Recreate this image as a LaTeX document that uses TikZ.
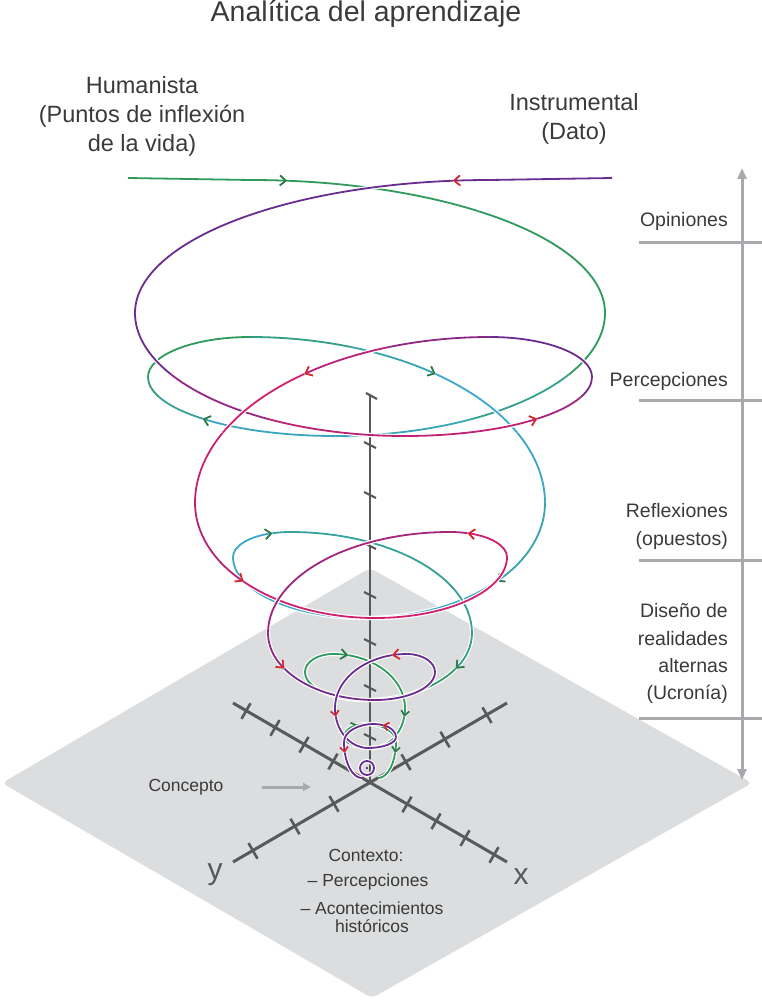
\documentclass[tikz,border=0pt]{standalone}
\usepackage{fontspec}
\setmainfont{Liberation Sans}
\usetikzlibrary{arrows.meta}
\definecolor{G}{HTML}{2E9A5E}
\definecolor{C}{HTML}{3DA9D6}
\definecolor{P}{HTML}{6A2C8F}
\definecolor{M}{HTML}{D81F6E}
\definecolor{GA}{HTML}{2B7A47}
\definecolor{PA}{HTML}{D9262C}
\definecolor{planec}{HTML}{DCDDDE}
\definecolor{axisc}{HTML}{58595B}
\definecolor{scalec}{HTML}{A7A9AC}
\definecolor{txt}{HTML}{3A3A3A}
\newcommand\fsz[1]{\fontsize{#1}{#1}\selectfont}
\newcommand\spiral[3]{%
  \colorlet{arcol}{#3}%
  \draw[seg, draw=#1] (128,178) -- (250,180);
  \foreach \qx/\qy/\qa/\qb/\qs/\qe/\qp/\qt in {
    250/313/355/133/270/276/100/1, 250/313/355/133/276/310/100/0, 250/313/355/133/310/360/100/0,
    335/313/270/123/0/30/100/0, 335/313/270/123/30/60/60/0, 335/313/270/123/60/90/25/0,
    335/377/187/59/90/135/20/1, 335/377/187/59/135/160/50/0, 335/377/187/59/160/180/85/0,
    250/377/102/40/180/270/100/0,
    250/503/295/166/270/290/70/0, 250/503/295/166/290/309/30/1, 250/503/295/166/309/335/5/0, 250/503/295/166/335/360/15/0,
    365/503/180/115/0/43/30/1, 365/503/180/115/43/90/10/0,
    365/557/132/61/90/180/5/0,
    290/557/57/25/180/252/10/1, 290/557/57/25/252/270/40/0,
    290/633/182/101/270/310/45/0, 290/633/182/101/310/360/55/0,
    365/633/107/67/0/32/65/1, 365/633/107/67/32/90/90/0,
    365/672/60/28/90/180/100/0,
    333/672/28/18/180/270/100/0,
    333/708/72/54/270/282/100/1, 333/708/72/54/282/360/100/0,
    372/708/33/40/0/12/100/2, 372/708/33/40/12/90/100/0,
    372/737/28/11/90/180/100/0,
    366/737/22/13/180/246/100/2, 366/737/22/13/246/270/100/0,
    366/742/30/18/270/360/100/0,
    378/742/18/36/0/17/100/2, 378/742/18/36/17/90/100/0}{%
    \ifcase\qt \def\qk{notip}\or\def\qk{withtip}\else\def\qk{smalltip}\fi
    \draw[seg,\qk,draw=#1!\qp!#2] ({\qx+\qa*cos(\qs)},{\qy+\qb*sin(\qs)}) arc[start angle=\qs,end angle=\qe,x radius=\qa,y radius=\qb];
  }%
}
\begin{document}
\begin{tikzpicture}[x=1pt,y=-1pt,
  seg/.style={line width=1.8pt, preaction={draw=white, line width=4.2pt}},
  withtip/.style={-{Straight Barb[length=6pt,width=10pt,line width=1.5pt,color=arcol]}},
  smalltip/.style={-{Straight Barb[length=4.5pt,width=8pt,line width=1.4pt,color=arcol]}},
  notip/.style={},
  axisline/.style={draw=axisc, line width=3pt},
  tickline/.style={draw=axisc, line width=2.6pt},
  scaleline/.style={draw=scalec, line width=3pt},
  lbl/.style={text=txt, inner sep=0pt}]
\useasboundingbox (0,0) rectangle (762,1000);
% plane
\fill[planec, rounded corners=5pt] (2,783) -- (370,568) -- (752,783) -- (372,998) -- cycle;
% horizontal axes
\draw[axisline] (233,703) -- (507,862);
\draw[axisline] (507,703) -- (233,862);
\foreach \d in {-124,-95,-66,-37,37,66,95,124}
  \draw[tickline] ({370+\d-4.5},{783+0.58*\d+7.8}) -- ({370+\d+4.5},{783+0.58*\d-7.8});
\foreach \d in {-117,-75,-36,36,75,117}
  \draw[tickline] ({370+\d-4.5},{783-0.58*\d-7.8}) -- ({370+\d+4.5},{783-0.58*\d+7.8});
% vertical axis
\draw[axisc, line width=2.6pt] (370,395) -- (370,783);
\draw[axisc, line width=2.2pt] (366,393) -- (377,399);
\foreach \yy in {445,495,546,595,642,688,737}
  \draw[axisc, line width=2.2pt] (364,{\yy-3}) -- (376,{\yy+3});
% spirals
\spiral{G}{C}{GA}
\begin{scope}[shift={(740,0)},xscale=-1]
\spiral{P}{M}{PA}
\end{scope}
\draw[seg, draw=P] (367,768) circle[radius=7];
\fill[P] (367,768) circle[radius=1.3];
% right scale
\coordinate (stop) at (742,168);
\coordinate (sbot) at (742,780);
\draw[scaleline, {Triangle[length=11pt,width=9pt]}-{Triangle[length=11pt,width=9pt]}] (sbot) -- (stop);
\foreach \hy in {242,400,560,718}
  \draw[scaleline] (639,\hy) -- (762,\hy);
\node[lbl, anchor=base east, font=\fsz{19.5}] at (728,227) {Opiniones};
\node[lbl, anchor=base east, font=\fsz{19.5}] at (728,386) {Percepciones};
\node[lbl, anchor=base east, font=\fsz{19.5}] at (728,517) {Reflexiones};
\node[lbl, anchor=base east, font=\fsz{19.5}] at (728,545) {(opuestos)};
\node[lbl, anchor=base east, font=\fsz{19.5}] at (728,617) {Diseño de};
\node[lbl, anchor=base east, font=\fsz{19.5}] at (728,645) {realidades};
\node[lbl, anchor=base east, font=\fsz{19.5}] at (728,672) {alternas};
\node[lbl, anchor=base east, font=\fsz{19.5}] at (728,699) {(Ucronía)};
% titles
\node[lbl, anchor=base, font=\fsz{28.5}] at (366,22) {Analítica del aprendizaje};
\node[lbl, anchor=base, font=\fsz{23.5}] at (142,94) {Humanista};
\node[lbl, anchor=base, font=\fsz{23.5}] at (142,123) {(Puntos de inflexión};
\node[lbl, anchor=base, font=\fsz{23.5}] at (142,152) {de la vida)};
\node[lbl, anchor=base, font=\fsz{23.5}] at (574,111) {Instrumental};
\node[lbl, anchor=base, font=\fsz{23.5}] at (574,140) {(Dato)};
% bottom labels
\node[lbl, anchor=base, font=\fsz{17.5}] (concepto) at (186,791) {Concepto};
\coordinate (cpt) at (311,787);
\draw[scaleline, -{Triangle[length=8pt,width=8pt]}] ([xshift=38pt]concepto.east |- cpt) -- (cpt);
\node[lbl, anchor=base, font=\fsz{17.5}] at (366,861) {Contexto:};
\node[lbl, anchor=base, font=\fsz{17.5}] at (368,886) {– Percepciones};
\node[lbl, anchor=base, font=\fsz{17.5}] at (372,914) {– Acontecimientos};
\node[lbl, anchor=base, font=\fsz{17.5}] at (372,932) {históricos};
\node[lbl, anchor=base, font=\fsz{30}, text=axisc] at (215,879) {y};
\node[lbl, anchor=base, font=\fsz{30}, text=axisc] at (521,884) {x};
\end{tikzpicture}
\end{document}
